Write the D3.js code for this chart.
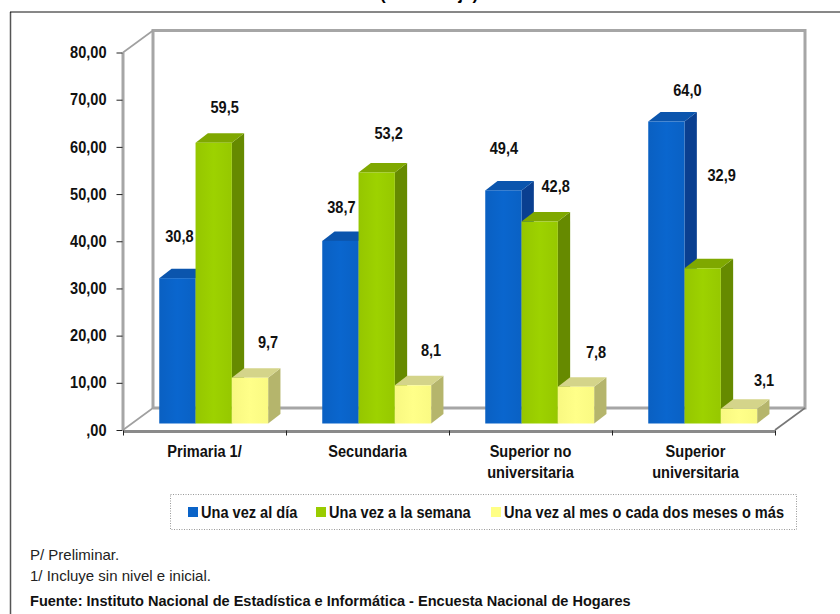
<!DOCTYPE html>
<html><head><meta charset="utf-8"><script src="https://d3js.org/d3.v7.min.js"></script>
<style>html,body{margin:0;padding:0;background:#fff}svg{display:block}text{font-family:"Liberation Sans",Arial,sans-serif}</style>
</head><body><svg id="c" width="840" height="614"></svg>
<script>
const categories=[["Primaria 1/"],["Secundaria"],["Superior no","universitaria"],["Superior","universitaria"]];
const seriesNames=["Una vez al día","Una vez a la semana","Una vez al mes o cada dos meses o más"];
const valDia=[30.8,38.7,49.4,64.0];
const valSemana=[59.5,53.2,42.8,32.9];
const valMes=[9.7,8.1,7.8,3.1];
const yTicks=[0,10,20,30,40,50,60,70,80];
const notes=["P/ Preliminar.","1/ Incluye sin nivel e inicial."];
const source="Fuente: Instituto Nacional de Estadística e Informática - Encuesta Nacional de Hogares";
const titleTail="(Porcentaje)";

const series=[valDia,valSemana,valMes];
const colors=[{f:"#0a63c8",d:"#0a3f90",t:"#0b55ad"},{f:"#99cc00",d:"#668a00",t:"#7fa800"},{f:"#ffff85",d:"#b5b56c",t:"#d4d48a"}];
const fmtY=v=>v===0?",00":d3.format(".2f")(v).replace(".",",");
const fmtV=v=>v.toFixed(1).replace(".",",");
const svg=d3.select("#c");
const defs=svg.append("defs");
colors.forEach((c,i)=>{
 const g=defs.append("linearGradient").attr("id","g"+i);
 [[0,d3.rgb(c.f).darker(0.08)],[.5,d3.rgb(c.f).brighter(0.08)],[1,d3.rgb(c.f).darker(0.05)]].forEach(s=>g.append("stop").attr("offset",s[0]).attr("stop-color",s[1]));
});
// frame: top rule and left rule only
svg.append("line").attr("x1",10.5).attr("x2",10.5).attr("y1",12).attr("y2",614).attr("stroke","#555").attr("stroke-width",1.5);
svg.append("line").attr("x1",10).attr("x2",840).attr("y1",12).attr("y2",12).attr("stroke","#111").attr("stroke-width",1);
svg.append("text").attr("x",429).attr("y",0).attr("text-anchor","middle").attr("font-size",17).attr("font-weight","bold").text(titleTail);

const y=d3.scaleLinear().domain([0,80]).range([430,52.5]);
const x=d3.scaleBand().domain(d3.range(4)).range([123,775]);
const dx=30,dy=-22;
const wall="#a6a6a6";
const g=svg.append("g");
const yTop=y(80),yBot=y(0);
// walls
g.append("path").attr("fill","none").attr("stroke",wall).attr("stroke-width",3).attr("d",
 `M${123+dx},${yBot+dy}V${yTop+dy}H${775+dx}V${yBot+dy}H${123+dx}`);
g.append("path").attr("fill","none").attr("stroke",wall).attr("stroke-width",3).attr("d",`M123,${yBot}V${yTop}`);
g.append("path").attr("fill","none").attr("stroke","#a0a0a0").attr("stroke-width",1.6).attr("d",
 `M123,${yTop}L${123+dx},${yTop+dy}M123,${yBot}L${123+dx},${yBot+dy}`);
g.append("path").attr("fill","none").attr("stroke","#777").attr("stroke-width",1.6).attr("d",`M775,${yBot}L${775+dx},${yBot+dy}`);
g.append("line").attr("x1",123).attr("x2",775).attr("y1",yBot+1.5).attr("y2",yBot+1.5).attr("stroke","#8a8a8a").attr("stroke-width",3);
// axes
const ya=d3.axisLeft(y).tickValues(yTicks).tickFormat(fmtY).tickSize(6).tickPadding(10);
const yg=svg.append("g").attr("transform","translate(122.5,0)").call(ya);
yg.select(".domain").remove();
yg.selectAll("text").attr("font-size",16).attr("font-weight","bold").attr("fill","#111");
yg.selectAll("line").attr("stroke","#222");
const xt=d3.scaleLinear().domain([0,4]).range([123,775]);
const xa=d3.axisBottom(xt).tickValues([0,1,2,3,4]).tickFormat("").tickSize(5);
const xg=svg.append("g").attr("transform",`translate(0,${yBot+0.5})`).call(xa);
xg.select(".domain").remove();xg.selectAll("line").attr("stroke","#222");
// bars
const barW=36.3,depthX=12.3,depthY=9.5,base=y(0)-6.5;
const h=v=>y(0)-y(v);
const groupLeft=ci=>x(ci)+x.bandwidth()/2-barW*1.5+9.2;
categories.forEach((c,ci)=>{
 series.forEach((s,si)=>{
  const v=s[ci],bx=groupLeft(ci)+si*barW,tp=base-h(v),col=colors[si];
  const b=g.append("g");
  b.append("path").attr("fill",col.d).attr("d",`M${bx+barW},${tp}l${depthX},${-depthY}V${base-depthY}l${-depthX},${depthY}Z`);
  b.append("path").attr("fill",col.t).attr("d",`M${bx},${tp}l${depthX},${-depthY}h${barW}l${-depthX},${depthY}Z`);
  b.append("rect").attr("x",bx).attr("y",tp).attr("width",barW).attr("height",base-tp).attr("fill",`url(#g${si})`);
 });
});
// value label placement relative to the bar top (per series, per category)
const nudgeX=[[2,1,0.5,21],[11,12,16,19],[18,18,20,25]];
const nudgeY=[[36,28,36,26],[30,33,29.5,87],[30,29.3,29,23]];
categories.forEach((c,ci)=>series.forEach((s,si)=>{
 const v=s[ci];
 svg.append("text").attr("x",groupLeft(ci)+barW*(si+.5)+nudgeX[si][ci]).attr("y",base-h(v)-nudgeY[si][ci])
  .attr("text-anchor","middle").attr("font-size",16).attr("font-weight","bold").attr("fill","#111").text(fmtV(v));
}));
// category labels
categories.forEach((c,ci)=>{
 const t=svg.append("text").attr("text-anchor","middle").attr("font-size",16).attr("font-weight","bold").attr("fill","#111");
 c.forEach((l,i)=>t.append("tspan").attr("x",x(ci)+x.bandwidth()/2+(ci===3?2:0)).attr("y",457+i*21).text(l));
});
// legend
svg.append("rect").attr("x",170.5).attr("y",494.5).attr("width",626).attr("height",35).attr("fill","none").attr("stroke","#999").attr("stroke-dasharray","1 1.5");
const lx=[188,316,491];
seriesNames.forEach((n,i)=>{
 svg.append("rect").attr("x",lx[i]).attr("y",507).attr("width",10).attr("height",10).attr("fill",colors[i].f);
 svg.append("text").attr("x",lx[i]+13).attr("y",518).attr("font-size",16).attr("font-weight","bold").attr("fill","#111").text(n);
});
// condense narrow-looking text
svg.selectAll("text").each(function(){
 const el=d3.select(this);
 if(+el.attr("font-size")!==16 && !this.closest(".tick")) return;
 const ts=el.selectAll("tspan");
 (ts.empty()?el:ts).each(function(){
  const w=this.getComputedTextLength();
  d3.select(this).attr("textLength",w*0.91).attr("lengthAdjust","spacingAndGlyphs");
 });
});
// notes
notes.forEach((n,i)=>svg.append("text").attr("x",30).attr("y",560+i*21).attr("font-size",15).attr("fill","#222").text(n));
svg.append("text").attr("x",30).attr("y",606).attr("font-size",14.55).attr("font-weight","bold").attr("fill","#111").text(source);
</script></body></html>
